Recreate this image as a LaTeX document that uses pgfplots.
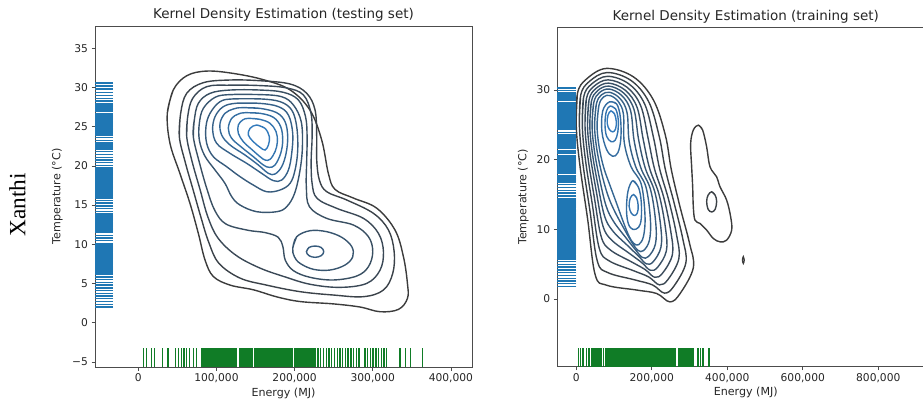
\documentclass[border=0pt]{standalone}
\usepackage{pgfplots}
\pgfplotsset{compat=1.18}
\usepackage{pgfplotstable}
\usepackage{fontspec}
\setmainfont{DejaVu Sans}
\newfontfamily\xserif{Liberation Serif}
\definecolor{kgray}{RGB}{60,60,60}
\definecolor{kblue}{RGB}{50,122,188}
\definecolor{rugblue}{RGB}{31,119,180}
\definecolor{ruggreen}{RGB}{16,124,38}
\pgfplotsset{
  kde/.style={
    scale only axis, clip=true,
    axis line style={black!70, line width=0.8pt},
    every tick/.style={black!70, line width=0.8pt},
    tick align=outside, major tick length=3.5pt,
    xtick pos=left, ytick pos=left,
    scaled x ticks=false, scaled y ticks=false,
    /pgf/number format/assume math mode=true,
    ticklabel style={font=\fontsize{10.7}{12}\selectfont, text=black!85},
    every axis title/.style={at={(0.5,1)}, anchor=center, yshift=11pt, font=\fontsize{13.5}{15}\selectfont, text=black!85},
    every axis x label/.style={at={(0.5,0)}, anchor=center, yshift=-26pt, font=\fontsize{11.1}{13}\selectfont, text=black!85},
  },
  lv/.style={draw=kblue!#1!kgray, line width=1.4pt, smooth, tension=0.6, mark=none},
  rugb/.style={only marks, mark=-, mark size=#1, color=rugblue, mark options={draw=rugblue, line width=1.35pt}},
  rugg/.style={only marks, mark=|, mark size=#1, color=ruggreen, mark options={draw=ruggreen, line width=1.35pt}},
}
\begin{document}
\pgfplotstableread[row sep=\\]{
temp\\30.6\\30.2\\29.8\\29.4\\29.0\\28.6\\28.3\\28.0\\27.85\\27.7\\27.55\\27.4\\27.25\\27.1\\26.95\\
26.65\\26.5\\26.35\\26.2\\26.05\\25.9\\25.75\\25.6\\25.45\\25.3\\25.15\\25.0\\24.85\\24.7\\24.55\\24.4\\24.25\\24.1\\23.95\\
23.6\\23.25\\23.0\\22.85\\22.7\\22.55\\22.4\\22.25\\22.1\\21.8\\21.45\\21.1\\20.75\\20.4\\20.05\\19.75\\
19.5\\19.35\\19.2\\19.05\\18.9\\18.75\\18.6\\18.45\\18.3\\18.15\\18.0\\17.85\\17.7\\17.55\\17.4\\17.25\\17.1\\16.95\\16.8\\16.65\\16.5\\16.35\\16.2\\16.05\\15.9\\
15.6\\15.25\\14.9\\14.55\\14.2\\13.9\\13.75\\13.6\\13.45\\13.3\\13.15\\13.0\\12.85\\12.7\\12.55\\12.4\\12.25\\12.1\\11.95\\11.8\\11.65\\11.5\\
11.15\\10.8\\10.45\\10.1\\9.95\\9.8\\9.65\\9.5\\9.35\\9.2\\9.05\\8.9\\8.75\\8.6\\8.45\\8.3\\8.15\\8.0\\7.85\\7.7\\7.55\\7.4\\7.25\\7.1\\6.95\\6.8\\6.65\\6.5\\6.35\\6.2\\
5.85\\5.5\\5.15\\4.8\\4.45\\4.1\\3.75\\3.4\\3.05\\2.7\\2.35\\2.0\\
}\rugTL
\pgfplotstableread[row sep=\\]{
energy\\6.5\\10.5\\17\\20.5\\31\\38\\48\\51.5\\55\\58.5\\62\\65.5\\70.5\\74.5\\
80.5\\81.8\\83.1\\84.4\\85.7\\87.0\\88.3\\89.6\\90.9\\92.2\\93.5\\94.8\\96.1\\97.4\\98.7\\100.0\\101.3\\102.6\\103.9\\105.2\\106.5\\107.8\\109.1\\110.4\\111.7\\113.0\\114.3\\115.6\\116.9\\118.2\\119.5\\120.8\\122.1\\123.4\\124.7\\126.0\\
129.5\\130.8\\132.1\\133.4\\134.7\\136.0\\137.3\\138.6\\139.9\\141.2\\142.5\\143.8\\145.1\\146.0\\
148.6\\149.9\\151.2\\152.5\\153.8\\155.1\\156.4\\157.7\\159.0\\160.3\\161.6\\162.9\\164.2\\165.5\\166.8\\168.1\\169.4\\170.7\\172.0\\173.3\\174.6\\175.9\\177.2\\178.5\\179.8\\181.1\\182.4\\183.7\\185.0\\186.3\\187.6\\188.9\\190.2\\191.5\\192.8\\194.1\\195.4\\196.7\\
200.3\\201.6\\202.9\\204.2\\205.5\\206.8\\208.1\\209.4\\210.7\\212.0\\213.3\\214.6\\215.9\\217.2\\218.5\\219.8\\221.1\\222.4\\223.7\\225.0\\226.3\\
230\\233.5\\237\\240.5\\244\\247.5\\251\\254.5\\258\\261.5\\265\\268.5\\272\\275.5\\279\\282.5\\290\\293.5\\297\\300.5\\304\\307.5\\311\\314.5\\318\\
335\\341.5\\348\\364\\
}\rugEL
\pgfplotstableread[row sep=\\]{
temp\\30.3\\29.9\\29.6\\29.45\\29.3\\29.15\\29.0\\28.85\\28.7\\28.55\\28.2\\28.05\\27.9\\27.75\\27.6\\27.45\\27.3\\27.15\\27.0\\26.85\\26.7\\26.55\\26.4\\26.25\\26.1\\25.95\\25.8\\25.65\\25.5\\25.35\\25.2\\25.05\\24.9\\24.75\\24.6\\24.45\\24.3\\23.95\\
23.6\\23.45\\23.3\\23.15\\23.0\\22.85\\22.7\\22.55\\22.4\\22.25\\22.1\\21.95\\21.8\\21.65\\21.3\\21.15\\21.0\\20.85\\20.55\\20.4\\20.25\\20.1\\19.95\\19.8\\19.65\\19.5\\19.35\\19.2\\19.05\\18.9\\18.75\\18.6\\18.45\\18.3\\18.15\\18.0\\
17.7\\17.55\\17.4\\17.25\\17.1\\16.95\\16.8\\16.4\\16.0\\15.6\\15.2\\14.8\\14.45\\14.3\\14.15\\14.0\\13.85\\13.7\\13.55\\13.4\\13.25\\13.1\\12.95\\12.8\\12.65\\12.35\\12.2\\12.05\\11.9\\11.75\\11.6\\11.45\\11.3\\11.15\\11.0\\10.85\\10.7\\10.55\\10.4\\10.25\\10.1\\9.95\\9.8\\9.65\\
9.35\\9.2\\9.05\\8.9\\8.75\\8.6\\8.45\\8.3\\8.15\\8.0\\7.85\\7.7\\7.55\\7.4\\7.25\\7.1\\6.95\\6.8\\6.65\\6.5\\6.35\\6.2\\6.05\\5.9\\5.75\\5.4\\5.0\\4.6\\4.2\\3.8\\3.4\\3.0\\2.6\\2.2\\1.85\\
}\rugTR
\pgfplotstableread[row sep=\\]{
energy\\5.5\\12\\18\\27.5\\34\\40.5\\43\\45.5\\48\\50.5\\53\\55.5\\58\\60.5\\63\\67.2\\71.6\\
78.7\\81.1\\83.5\\85.9\\88.3\\90.7\\93.1\\95.5\\97.9\\100.3\\102.7\\105.1\\107.5\\109.9\\112.3\\114.7\\117.1\\119.5\\121.9\\124.3\\126.7\\129.1\\131.5\\133.9\\136.3\\138.7\\141.1\\143.5\\145.9\\148.3\\150.7\\153.1\\155.5\\157.9\\160.3\\162.7\\165.1\\167.5\\169.9\\172.3\\174.7\\177.1\\179.5\\181.9\\184.3\\186.7\\189.1\\191.5\\193.9\\196.3\\198.7\\201.1\\203.5\\205.9\\208.3\\210.7\\213.1\\215.5\\217.9\\220.3\\222.7\\225.1\\227.5\\229.9\\232.3\\234.7\\237.1\\239.5\\241.9\\244.3\\246.7\\249.1\\251.5\\253.9\\256.3\\258.7\\261.1\\263.5\\
270.3\\272.7\\275.1\\277.5\\279.9\\282.3\\284.7\\287.1\\289.5\\291.9\\294.3\\296.7\\299.1\\301.5\\303.9\\306.3\\308.7\\
322\\329\\336\\352\\
}\rugER
\begin{tikzpicture}
\useasboundingbox (0,0) rectangle (923pt,402pt);
\clip (0,0) rectangle (923pt,402pt);
\node[font=\xserif\fontsize{23.3}{26}\selectfont, rotate=90, anchor=center] at (17.5pt,197pt) {Xanthi};
% ---------------- left: testing set
\begin{axis}[kde, at={(95pt,35pt)}, anchor=south west, width=377pt, height=341pt,
  xmin=-55.4, xmax=427, ymin=-5.65, ymax=37.85,
  xtick={0,100,200,300,400}, xticklabels={0,{100,000},{200,000},{300,000},{400,000}},
  ytick={-5,0,5,10,15,20,25,30,35}, yticklabels={−5,0,5,10,15,20,25,30,35},
  title={Kernel Density Estimation (testing set)},
  xlabel={Energy (MJ)}, ylabel={Temperature (°C)},
  every axis y label/.style={at={(0,0.5)}, anchor=center, xshift=-37.7pt, rotate=90, font=\fontsize{11.1}{13}\selectfont, text=black!85},
]
\addplot[rugb=9pt] table[x expr=-43.875, y=temp] {\rugTL};
\addplot[rugg=9.35pt] table[x=energy, y=energy, y expr=-4.455] {\rugEL};
% L1
\addplot[lv=0] coordinates {(37.1,26.7) (44.8,29.7) (61.9,31.5) (87.5,32.1) (121.6,31.8) (160.0,31.0) (194.2,29.7) (219.8,27.1) (234.7,23.3) (243.3,19.0) (251.8,17.0) (275.3,15.9) (305.2,14.6) (328.6,11.8) (339.3,8.4) (344.4,5.0) (344.4,3.1) (332.9,1.7) (309.4,1.4) (283.8,2.0) (249.7,2.4) (207.0,2.7) (177.1,3.3) (147.2,4.2) (117.4,4.8) (96.0,5.9) (85.4,8.0) (76.8,11.4) (66.2,15.2) (53.4,19.0) (40.5,22.9) (37.1,26.7) (44.8,29.7)};
% L2
\addplot[lv=10] coordinates {(52.5,23.73) (54.2,26.71) (61.9,29.26) (83.2,30.62) (117.4,30.96) (155.8,30.87) (194.2,30.45) (215.5,29.26) (226.2,27.13) (228.3,23.73) (228.3,20.75) (231.7,18.20) (241.1,16.71) (266.8,15.65) (300.9,13.95) (320.1,11.83) (327.4,9.06) (325.6,6.30) (313.7,4.17) (288.1,3.32) (249.7,3.53) (207,3.96) (164,4.8) (130,5.7) (103,7.6) (90,10.3) (80,13.5) (70,17) (60,20.5) (52.5,23.73) (54.2,26.71)};
% L3
\addplot[lv=20] coordinates {(62,23.7) (63.2,26.28) (69.6,28.62) (87.5,30.11) (117.4,30.3) (155.8,30.25) (189.9,29.95) (211.3,29.05) (221,26.71) (222.4,23.73) (221.2,20.75) (222.4,17.78) (228.8,15.86) (253.9,14.59) (288.1,13.31) (307.3,11.40) (313.7,9.06) (309.4,6.72) (292.4,5.02) (258.2,4.51) (220,4.9) (186,5.9) (155,7.0) (125,8.6) (102,10.8) (89,13.5) (79,17) (69,20.5) (62,23.7) (63.2,26.28)};
% L4
\addplot[lv=30] coordinates {(70.4,23.73) (71.7,25.86) (76.8,27.98) (91.8,29.26) (117.4,29.68) (155.8,29.68) (185.7,29.39) (204.9,28.41) (214,26.28) (216,23.73) (215.5,20.75) (215,17.35) (219,14.80) (241.1,13.31) (275.3,12.46) (294.5,10.97) (300,9.06) (294.5,7.15) (279.6,5.96) (249.7,5.45) (219.8,5.79) (198.5,6.64) (188,8.0) (185,9.7) (179,10.9) (162,11.5) (140,11.8) (112,12.6) (98,14.3) (88,17) (78,20.5) (70.4,23.73) (71.7,25.86)};
% L5 upper
\addplot[lv=40] coordinates {(117.4,29.1) (155.8,29.1) (183.5,28.83) (198.5,27.77) (208.5,25.64) (210,22.46) (207,19.48) (200,16.5) (189.9,14.80) (177.1,14.16) (151.5,14.16) (130.2,15.01) (119.5,16.08) (110.9,17.78) (98.2,19.48) (85,21.3) (78.1,23.31) (78.1,25.43) (83.2,27.34) (98.2,28.75) (117.4,29.1) (155.8,29.1)};
% L5 lower
\addplot[lv=40] coordinates {(197.6,9.49) (202.7,10.97) (219.8,11.74) (241.1,11.61) (260.4,10.89) (273.2,9.70) (274.4,8.42) (264.6,7.36) (245.4,6.72) (224.1,6.81) (207.0,7.57) (199.7,8.42) (197.6,9.49) (202.7,10.97)};
% L6 upper
\addplot[lv=50] coordinates {(121.6,28.55) (155.8,28.55) (181.4,28.20) (196.3,27.13) (202.7,25.01) (204.0,22.03) (200.6,19.48) (194.2,17.78) (181.4,16.93) (164.3,16.71) (147.2,17.56) (130.2,18.63) (113.1,19.90) (96.0,21.18) (87.5,22.88) (86.6,25.01) (91.8,26.71) (104.6,28.20) (121.6,28.55) (155.8,28.55)};
% L6 lower
\addplot[lv=50] coordinates {(215.1,9.06) (218.4,9.6) (226.2,9.78) (234.0,9.6) (237.3,9.06) (234.0,8.55) (226.2,8.34) (218.4,8.55) (215.1,9.06) (218.4,9.6)};
% L7
\addplot[lv=60] coordinates {(125.9,28.0) (155.8,27.98) (179.3,27.56) (192.1,26.49) (197.6,24.16) (196.3,21.60) (192.1,19.48) (183.5,18.20) (172.9,18.12) (157.9,19.05) (138.7,20.33) (117.4,21.60) (100.3,22.88) (95.2,24.58) (98.2,26.28) (108.8,27.56) (125.9,28.0) (155.8,27.98)};
% L8
\addplot[lv=70] coordinates {(132.3,27.43) (155.8,27.34) (177.1,26.79) (187.8,25.64) (191.2,23.73) (189.1,21.60) (183.5,19.90) (175.0,18.97) (166.5,19.05) (153.6,20.12) (136.6,21.39) (117.4,22.67) (106.7,23.94) (104.6,25.43) (110.9,26.71) (121.6,27.26) (132.3,27.43) (155.8,27.34)};
% L9
\addplot[lv=80] coordinates {(136.6,26.79) (155.8,26.71) (172.9,26.20) (182.2,25.01) (184.8,23.31) (182.2,21.60) (175.0,20.12) (167.7,19.82) (160.0,20.12) (147.2,21.18) (132.3,22.37) (119.5,23.52) (115.2,24.79) (119.5,26.07) (128.0,26.62) (136.6,26.79) (155.8,26.71)};
% L10
\addplot[lv=90] coordinates {(140.8,26.07) (155.8,25.94) (168.6,25.43) (176.3,24.37) (178.0,23.09) (175.0,21.82) (168.6,20.84) (162.2,20.75) (155.8,21.18) (145.1,22.11) (134.4,23.09) (128.0,24.16) (128.0,25.22) (133.6,25.86) (140.8,26.07) (155.8,25.94)};
% L11
\addplot[lv=100] coordinates {(151.5,25.22) (162.2,24.79) (167.7,23.73) (166.5,22.67) (162.2,22.03) (155.8,22.37) (147.2,23.09) (140.8,23.94) (143.0,24.79) (151.5,25.22) (162.2,24.79)};
\end{axis}
% ---------------- right: training set
\begin{axis}[kde, at={(557.3pt,35.3pt)}, anchor=south west, width=377pt, height=339.4pt,
  xmin=-50.3, xmax=948.4, ymin=-9.7, ymax=39.0,
  xtick={0,200,400,600,800}, xticklabels={0,{200,000},{400,000},{600,000},{800,000}},
  ytick={0,10,20,30},
  title={Kernel Density Estimation (training set)},
  xlabel={Energy (MJ)}, ylabel={Temperature (°C)},
  every axis y label/.style={at={(0,0.5)}, anchor=center, xshift=-34pt, rotate=90, font=\fontsize{11.1}{13}\selectfont, text=black!85},
]
\addplot[rugb=9.5pt] table[x expr=-25.2, y=temp] {\rugTR};
\addplot[rugg=9.2pt] table[x=energy, y=energy, y expr=-8.38] {\rugER};
\addplot[lv=0] coordinates {(0,24.7) (3,29.5) (27.5,31.6) (80,33.1) (151,31.9) (204,28.6) (236,23.5) (252,18.5) (275,13.2) (300,8.0) (310,4.5) (275,0.8) (248,-0.4) (213,0.8) (160,1.3) (80,2.0) (50,3.5) (30,11.5) (10,19.0) (0,24.7) (3,29.5)};
\addplot[lv=8] coordinates {(8.3,24.75) (11.6,29.24) (34.2,31.21) (81.5,32.51) (145.2,31.36) (192.2,28.28) (219.7,23.35) (236.0,18.58) (259.6,13.7) (282.3,8.6) (290.2,5.18) (258.5,1.85) (233.6,0.86) (202.1,2.03) (154.8,2.76) (83.8,3.8) (55.7,5.45) (36.3,12.63) (17.5,19.45) (8.3,24.75) (11.6,29.24)};
\addplot[lv=17] coordinates {(16.0,24.79) (19.5,29.01) (40.4,30.85) (82.9,31.97) (139.7,30.86) (181.1,27.99) (204.4,23.21) (221.0,18.65) (245.1,14.16) (265.8,9.16) (271.7,5.81) (243.1,2.83) (220.2,2.04) (191.8,3.18) (149.9,4.11) (87.3,5.48) (61.0,7.27) (42.2,13.68) (24.5,19.87) (16.0,24.79) (19.5,29.01)};
\addplot[lv=25] coordinates {(23.1,24.83) (26.9,28.79) (46.2,30.51) (84.2,31.46) (134.6,30.39) (170.8,27.72) (190.2,23.08) (207.1,18.71) (231.7,14.59) (250.4,9.68) (254.6,6.39) (228.8,3.74) (207.7,3.13) (182.3,4.24) (145.3,5.37) (90.5,7.04) (66.0,8.96) (47.6,14.65) (31.0,20.26) (23.1,24.83) (26.9,28.79)};
\addplot[lv=33] coordinates {(29.7,24.86) (33.8,28.58) (51.5,30.20) (85.4,30.99) (129.9,29.96) (161.3,27.47) (177.1,22.96) (194.2,18.77) (219.4,14.98) (236.3,10.16) (238.7,6.93) (215.6,4.58) (196.2,4.14) (173.6,5.23) (141.1,6.54) (93.5,8.48) (70.5,10.52) (52.7,15.55) (37.0,20.62) (29.7,24.86) (33.8,28.58)};
\addplot[lv=42] coordinates {(35.8,24.9) (40.1,28.39) (56.4,29.91) (86.5,30.56) (125.7,29.56) (152.7,27.23) (165.2,22.85) (182.5,18.83) (208.1,15.35) (223.3,10.6) (224.2,7.43) (203.5,5.35) (185.6,5.06) (165.6,6.13) (137.3,7.61) (96.3,9.8) (74.7,11.95) (57.3,16.38) (42.5,20.95) (35.8,24.9) (40.1,28.39)};
\addplot[lv=50] coordinates {(41.8,24.93) (46.3,28.21) (61.3,29.62) (87.6,30.14) (121.4,29.16) (144.0,27.0) (153.2,22.74) (170.7,18.88) (196.7,15.71) (210.3,11.04) (209.7,7.92) (191.4,6.12) (175.0,5.98) (157.5,7.03) (133.4,8.67) (99.0,11.12) (78.9,13.38) (61.9,17.2) (48.0,21.28) (41.8,24.93) (46.3,28.21)};
\addplot[lv=58] coordinates {(48.4,24.96) (53.2,28.0) (66.7,29.31) (88.8,29.67) (116.7,28.73) (134.5,26.75) (140.1,22.62) (157.8,18.94) (184.4,16.1) (196.2,11.52) (193.8,8.46) (178.2,6.96) (163.5,6.99) (148.8,8.02) (129.2,9.84) (102.0,12.56) (83.4,14.94) (67.0,18.1) (54.0,21.64) (48.4,24.96) (53.2,28.0)};
\addplot[lv=67] coordinates {(55,25.0) (60,27.8) (72,29.0) (90,29.2) (112,28.3) (125,26.5) (127,22.5) (145,19.0) (172,16.5) (182,12.0) (178,9.0) (165,7.8) (152,8.0) (140,9.0) (125,11.0) (105,14.0) (88,16.5) (72,19.0) (60,22.0) (55,25.0) (60,27.8)};
\addplot[lv=78] coordinates {(88,28.3) (107,28.0) (117,26.0) (118,23.0) (110,21.0) (96,20.5) (80,21.5) (68,24.0) (70,27.0) (88,28.3) (107,28.0)};
\addplot[lv=89] coordinates {(90,27.7) (104,27.3) (111,25.8) (110,24.0) (103,22.8) (92,22.6) (80,23.4) (76,25.2) (80,27.0) (90,27.7) (104,27.3)};
\addplot[lv=100] coordinates {(92,27.0) (101,26.6) (106,25.5) (104,24.4) (97,24.0) (88,24.3) (82,25.2) (84,26.4) (92,27.0) (101,26.6)};
\addplot[lv=78] coordinates {(150,17.0) (165,16.0) (172,14.0) (172,11.5) (165,10.3) (150,10.0) (138,10.8) (133,12.8) (137,15.5) (150,17.0) (165,16.0)};
\addplot[lv=89] coordinates {(152,15.0) (160,14.5) (164,13.4) (162,12.4) (155,12.0) (146,12.3) (140,13.3) (143,14.5) (152,15.0) (160,14.5)};
% island
\addplot[lv=0] coordinates {(323.3,24.96) (334.7,24.25) (345.3,21.85) (354.2,18.99) (371.8,17.55) (380.7,16.12) (398.3,14.20) (408.9,11.81) (411.6,9.90) (398.3,8.46) (380.7,8.22) (363.0,8.70) (345.3,9.90) (327.7,10.85) (314.4,11.33) (310.0,13.25) (308.3,16.12) (305.6,18.99) (303.0,22.33) (310.0,24.25) (323.3,24.96) (334.7,24.25)};
\addplot[lv=8] coordinates {(358.6,15.4) (368,14.9) (371.8,14.0) (368,12.9) (358.6,12.5) (349,12.9) (345.4,14.0) (349,14.9) (358.6,15.4) (368,14.9)};
\addplot[lv=0, line width=1.2pt] coordinates {(442.5,6.1) (445.0,5.6) (442.5,5.1) (440.0,5.6) (442.5,6.1) (445.0,5.6)};
\end{axis}
\end{tikzpicture}
\end{document}
